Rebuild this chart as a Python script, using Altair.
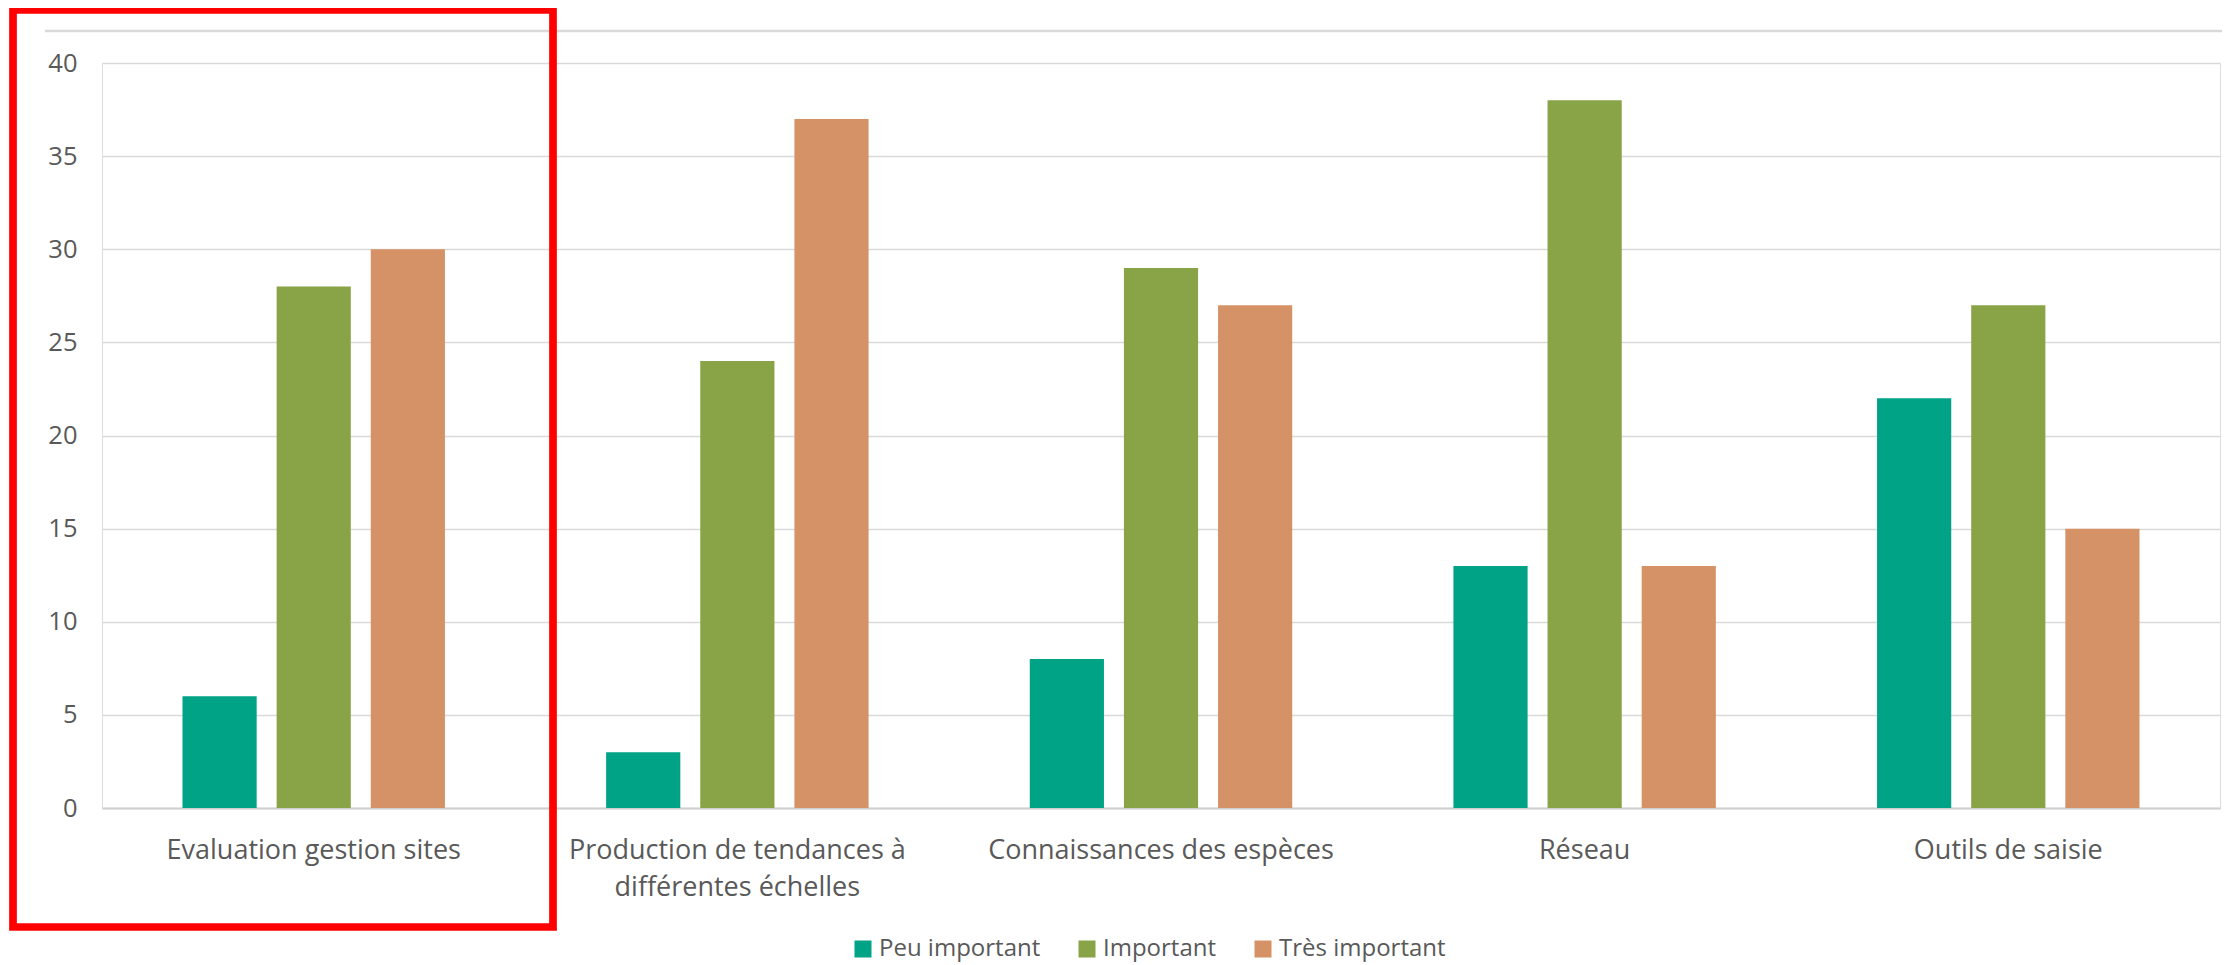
import altair as alt
import pandas as pd

# ---- data ----
categories = [
    "Evaluation gestion sites",
    "Production de tendances à différentes échelles",
    "Connaissances des espèces",
    "Réseau",
    "Outils de saisie",
]
series = ["Peu important", "Important", "Très important"]
peu_important = [6, 3, 8, 13, 22]
important = [28, 24, 29, 38, 27]
tres_important = [30, 37, 27, 13, 15]
colors = ["#00A385", "#88A446", "#D69267"]
y_ticks = [0, 5, 10, 15, 20, 25, 30, 35, 40]
label_lines = {
    "Production de tendances à différentes échelles": ["Production de tendances à", "différentes échelles"],
}

rows = []
for name, vals in zip(series, [peu_important, important, tres_important]):
    for cat, v in zip(categories, vals):
        rows.append({"categorie": cat, "serie": name, "valeur": v})
df = pd.DataFrame(rows)

# multi-line label expression
expr = "datum.value"
for full, lines in label_lines.items():
    arr = "[" + ", ".join("'" + l + "'" for l in lines) + "]"
    expr = "datum.value == '" + full + "' ? " + arr + " : " + expr

FONT = "Open Sans"
TXT = "#595959"

bars = alt.Chart(df).mark_bar().encode(
    x=alt.X(
        "categorie:N",
        sort=categories,
        scale=alt.Scale(paddingInner=0.3805, paddingOuter=0.19),
        axis=alt.Axis(
            title=None, labelAngle=0, labelFont=FONT, labelFontSize=27,
            labelColor=TXT, labelPadding=29, ticks=False, domain=True,
            domainColor="#D0D0D0", domainWidth=2, grid=False, labelLimit=800,
            labelExpr=expr, labelLineHeight=37,
        ),
    ),
    xOffset=alt.XOffset(
        "serie:N", sort=series,
        scale=alt.Scale(paddingInner=0.212, paddingOuter=0),
    ),
    y=alt.Y(
        "valeur:Q",
        scale=alt.Scale(domain=[0, 40], nice=False),
        axis=alt.Axis(
            title=None, values=y_ticks, labelFont=FONT, labelFontSize=25.5,
            labelColor=TXT, labelPadding=25, ticks=False, domain=False,
            grid=True, gridColor="#D9D9D9", gridWidth=1.5,
        ),
    ),
    color=alt.Color(
        "serie:N",
        sort=series,
        scale=alt.Scale(domain=series, range=colors),
        legend=alt.Legend(
            title=None, orient="none", legendX=749, legendY=874,
            direction="horizontal", symbolType="square", symbolSize=289,
            symbolStrokeWidth=0, labelFont=FONT, labelFontSize=24,
            labelColor=TXT, columnPadding=34, labelOffset=4, padding=0,
            labelLimit=600,
        ),
    ),
)

one = alt.Data(values=[{"k": 1}])

red_box = alt.Chart(one).mark_rect(
    fill=None, stroke="#FF0000", strokeWidth=7.7, filled=False
).encode(
    x=alt.value(-89), x2=alt.value(451), y=alt.value(-53), y2=alt.value(864)
)

top_line = alt.Chart(one).mark_rule(color="#D9D9D9", strokeWidth=2.5).encode(
    x=alt.value(-57), x2=alt.value(2140), y=alt.value(-32)
)

chart = alt.layer(bars, top_line, red_box).properties(
    width=2118,
    height=745,
    autosize=alt.AutoSizeParams(type="none"),
    padding={"left": 94, "top": 55, "right": 2, "bottom": 155},
).configure_view(strokeWidth=0).configure(background="white")

chart.save("out.html", embed_options={"renderer": "svg", "actions": False})
